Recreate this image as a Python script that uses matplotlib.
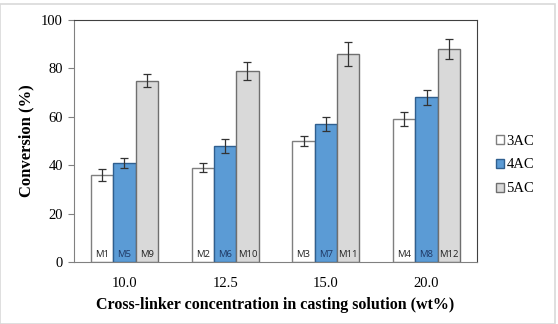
import matplotlib.pyplot as plt
import matplotlib.patches as mpatches
import numpy as np

categories = ['10.0', '12.5', '15.0', '20.0']
series = ['3AC', '4AC', '5AC']
values_3ac = [36, 39, 50, 59]
values_4ac = [41, 48, 57, 68]
values_5ac = [75, 79, 86, 88]
err_3ac = [2.5, 1.8, 2.0, 3.0]
err_4ac = [2.0, 3.0, 3.0, 3.0]
err_5ac = [2.5, 3.7, 5.0, 4.0]
bar_labels = [['M1', 'M2', 'M3', 'M4'],
              ['M5', 'M6', 'M7', 'M8'],
              ['M9', 'M10', 'M11', 'M12']]

fill_colors = ['#ffffff', '#5b9bd5', '#d9d9d9']
edge_colors = ['#7f7f7f', '#2f5f8f', '#6f6f6f']

plt.rcParams['font.family'] = ['Liberation Serif', 'DejaVu Serif']

fig = plt.figure(figsize=(5.58, 3.24), dpi=100)
ax = fig.add_axes([74 / 558, 1 - 262 / 324, (477 - 74) / 558, (262 - 20) / 324])

# light gray frame around the whole chart
fig.patches.append(mpatches.Rectangle((0.0, 0.0), 555 / 558, 1 - 4 / 324,
                                      transform=fig.transFigure, fill=False,
                                      edgecolor='#d9d9d9', linewidth=1.2))

x = np.arange(len(categories))
width = 0.222
all_vals = [values_3ac, values_4ac, values_5ac]
all_errs = [err_3ac, err_4ac, err_5ac]

for i, (vals, errs) in enumerate(zip(all_vals, all_errs)):
    pos = x + (i - 1) * width
    ax.bar(pos, vals, width, color=fill_colors[i], edgecolor=edge_colors[i],
           linewidth=1.0, label=series[i], zorder=2)
    ax.errorbar(pos, vals, yerr=errs, fmt='none', ecolor='#333333',
                elinewidth=0.9, capsize=3, capthick=0.9, zorder=3)
    for p, lab in zip(pos, bar_labels[i]):
        ax.text(p, 1.3, lab, ha='center', va='bottom', fontsize=6.8,
                family=['Open Sans', 'DejaVu Sans'],
                color='#1f3864' if i == 1 else '#222222', zorder=4)

ax.set_xlim(-0.5, 3.5)
ax.set_ylim(0, 100)
ax.set_yticks([0, 20, 40, 60, 80, 100])
ax.set_xticks(x)
ax.set_xticklabels(categories)
ax.tick_params(axis='x', length=0, labelsize=10.5, pad=11)
ax.tick_params(axis='y', length=4, labelsize=10.5, color='#808080', pad=4)

ax.spines['left'].set_color('#808080')
ax.spines['bottom'].set_color('#808080')
ax.spines['top'].set_color('#404040')
ax.spines['right'].set_color('#404040')

ax.set_ylabel('Conversion (%)', fontsize=12, fontweight='bold', labelpad=5)
ax.set_xlabel('Cross-linker concentration in casting solution (wt%)',
              fontsize=11.5, fontweight='bold', labelpad=5)

leg = fig.legend(loc='center left', bbox_to_anchor=(483 / 558, 1 - 165 / 324),
                 frameon=False, fontsize=10.5, handlelength=0.55, handleheight=0.55,
                 handletextpad=0.15, labelspacing=0.75)

plt.savefig('out.png', dpi=100)
